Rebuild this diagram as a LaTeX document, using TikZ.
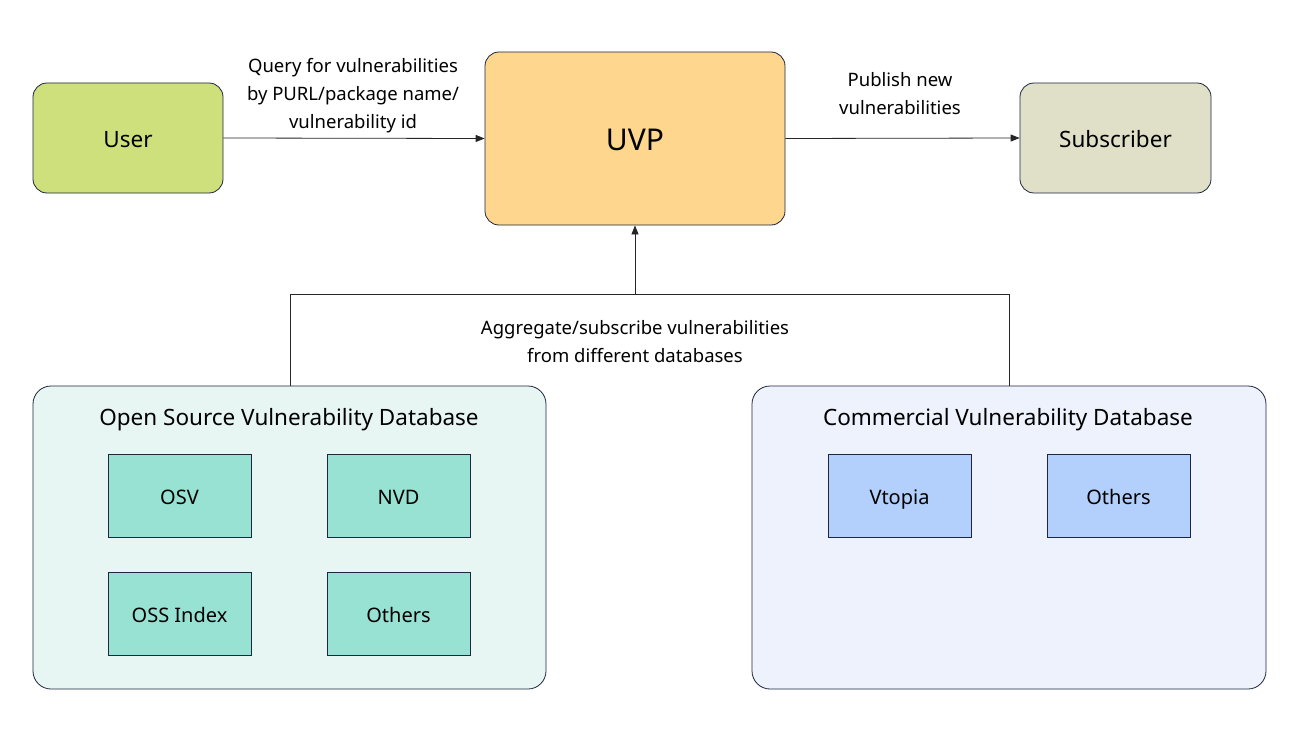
\documentclass[tikz,border=0pt]{standalone}
\usepackage{fontspec}
\setmainfont{Noto Sans}
\usetikzlibrary{arrows.meta}
\definecolor{edge}{HTML}{1E2640}
\definecolor{usercol}{HTML}{CDE07C}
\definecolor{uvpcol}{HTML}{FFD68E}
\definecolor{subcol}{HTML}{E0DFC8}
\definecolor{osbg}{HTML}{E8F6F3}
\definecolor{osin}{HTML}{98E2D4}
\definecolor{combg}{HTML}{EDF2FD}
\definecolor{comin}{HTML}{B3CFFB}
\tikzset{
  topbox/.style={draw=edge, line width=0.8pt, rounded corners=14pt, inner sep=0pt, font=\fontsize{22.5}{26}\selectfont, text height=19pt, text depth=1pt},
  groupbox/.style={draw=edge, line width=0.8pt, rounded corners=18pt, inner sep=0pt},
  itembox/.style={draw=edge, line width=0.8pt, inner sep=0pt, minimum width=143pt, minimum height=83pt, font=\fontsize{20}{24}\selectfont, text height=18pt, text depth=0pt},
  lbl/.style={align=center, font=\fontsize{18.5}{28}\selectfont, inner sep=0pt},
  grouptitle/.style={font=\fontsize{22.5}{26}\selectfont, inner sep=0pt, text height=19pt, text depth=2pt},
  conn/.style={draw=black!85, line width=0.8pt},
  arr/.style={conn, -{Triangle[length=9pt,width=7pt]}}
}
\begin{document}
\begin{tikzpicture}[x=1pt,y=-1pt]
\useasboundingbox[fill=white] (0,0) rectangle (1293,733);
% top row
\node[topbox, fill=usercol, minimum width=190pt, minimum height=110pt] (user) at (128,138) {User};
\node[topbox, fill=uvpcol, minimum width=300pt, minimum height=173pt, font=\fontsize{30}{34}\selectfont, text height=26pt, text depth=2pt] (uvp) at (635,138.5) {UVP};
\node[topbox, fill=subcol, minimum width=191pt, minimum height=110pt] (sub) at (1115.5,138) {Subscriber};
% groups
\node[groupbox, fill=osbg, minimum width=513pt, minimum height=303pt] (os) at (289.5,537.5) {};
\node[groupbox, fill=combg, minimum width=514pt, minimum height=303pt] (com) at (1009,537.5) {};
\node[grouptitle] (ostitle) at (289,417) {Open Source Vulnerability Database};
\node[grouptitle] (comtitle) at (1008,417) {Commercial Vulnerability Database};
% items
\node[itembox, fill=osin] (osv) at (179.5,495.5) {OSV};
\node[itembox, fill=osin] (nvd) at (398.5,495.5) {NVD};
\node[itembox, fill=osin] (ossi) at (179.5,613.5) {OSS Index};
\node[itembox, fill=osin] (oso) at (398.5,613.5) {Others};
\node[itembox, fill=comin] (vtop) at (899.5,495.5) {Vtopia};
\node[itembox, fill=comin] (como) at (1118.5,495.5) {Others};
% connectors
\draw[arr] (user.east) -- (uvp.west);
\draw[arr] (uvp.east) -- (sub.west);
\coordinate (jl) at (290,294);
\coordinate (jr) at (1009,294);
\coordinate (jm) at (635,294);
\draw[conn] (os.north -| jl) -- (jl) -- (jr) -- (com.north -| jr);
\draw[arr] (jm) -- (uvp.south);
% labels
\node[lbl] (ql) at (353,96) {Query for vulnerabilities\\by PURL/package name/\\vulnerability id};
\node[lbl] (pl) at (900,94) {Publish new\\vulnerabilities};
\node[lbl] (al) at (635,342) {Aggregate/subscribe vulnerabilities\\from different databases};
\end{tikzpicture}
\end{document}
